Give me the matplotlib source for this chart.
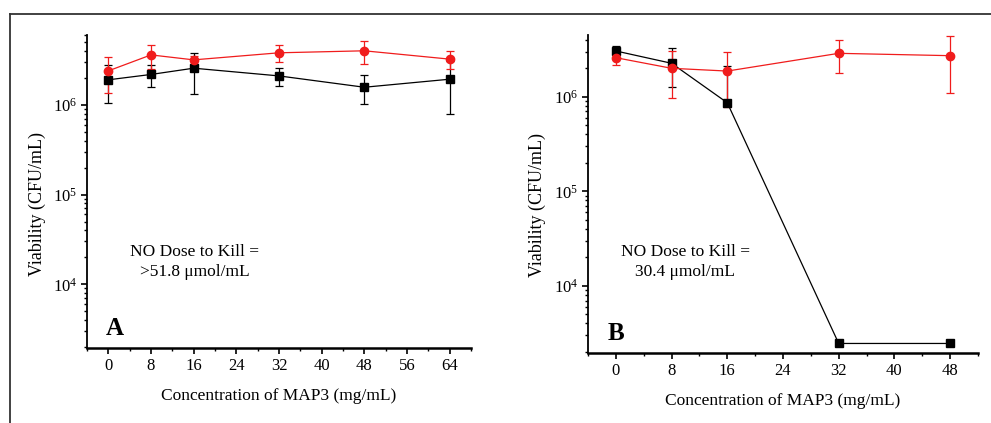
import matplotlib
matplotlib.use("Agg")
import matplotlib.pyplot as plt
from matplotlib.lines import Line2D
from matplotlib.ticker import LogLocator, MultipleLocator, NullFormatter

plt.rcParams["font.family"] = ["Liberation Serif", "DejaVu Serif"]
plt.rcParams["mathtext.fontset"] = "stix"

# panel A
conc_a = [0, 8, 16, 32, 48, 64]
black_a = [1.9e6, 2.18e6, 2.56e6, 2.1e6, 1.57e6, 1.93e6]
black_a_err = [0.86e6, 0.58e6, 1.25e6, 0.48e6, 0.56e6, 1.14e6]
red_a = [2.39e6, 3.6e6, 3.17e6, 3.8e6, 4.0e6, 3.23e6]
red_a_err = [1.03e6, 1.1e6, 0.35e6, 0.8e6, 1.15e6, 0.73e6]

# panel B
conc_b = [0, 8, 16, 32, 48]
black_b = [3.05e6, 2.26e6, 0.864e6, 2460, 2460]
black_b_err_lo = [0.4e6, 1.0e6, 0.0, 0, 0]
black_b_err_hi = [0.4e6, 1.0e6, 1.25e6, 0, 0]
red_b = [2.59e6, 2.0e6, 1.87e6, 2.88e6, 2.72e6]
red_b_err = [0.43e6, 1.03e6, 1.1e6, 1.08e6, 1.63e6]

fig = plt.figure(figsize=(9.91, 4.23), dpi=100)
W, H = 991, 423


def px_axes(left, top, right, bottom):
    return fig.add_axes([left / W, 1 - bottom / H, (right - left) / W, (bottom - top) / H])


ax_a = px_axes(87, 35, 471, 348)
ax_b = px_axes(588, 35, 978, 353)


def style(ax, xmax, xticks, ymax, letter, dose, text_pos, ylab_y):
    ax.set_yscale("log")
    ax.set_ylim(1950, ymax)
    ax.set_xlim(-4, xmax)
    ax.set_xticks(xticks)
    ax.xaxis.set_minor_locator(MultipleLocator(4))
    ax.yaxis.set_major_locator(LogLocator(base=10, numticks=10))
    ax.yaxis.set_minor_locator(LogLocator(base=10, subs=range(2, 10), numticks=20))
    ax.yaxis.set_minor_formatter(NullFormatter())
    for s in ["top", "right"]:
        ax.spines[s].set_visible(False)
    ax.spines["left"].set_linewidth(1.3)
    ax.spines["bottom"].set_linewidth(1.8)
    ax.tick_params(which="major", direction="out", length=4, width=1.2, labelsize=12, pad=3)
    ax.tick_params(which="minor", direction="out", length=2.5, width=1)
    ax.set_xlabel("Concentration of MAP3 (mg/mL)", fontsize=12.5, labelpad=10)
    ax.set_ylabel("Viability (CFU/mL)", fontsize=13)
    ax.yaxis.set_label_coords(-0.108, ylab_y)
    ax.text(0.05, 0.042, letter, transform=ax.transAxes, fontsize=18, fontweight="bold")
    ax.text(text_pos[0], text_pos[1], "NO Dose to Kill =\n" + dose, transform=ax.transAxes,
            fontsize=12.5, ha="center", va="center", linespacing=1.4)


def draw(ax, x, y, err, color, marker, ms):
    ax.errorbar(x, y, yerr=err, color=color, lw=0.9, marker=marker, ms=ms,
                mec=color, mfc=color, elinewidth=0.9, capsize=3, capthick=0.9, zorder=3)


draw(ax_a, conc_a, black_a, black_a_err, "black", "s", 5.5)
draw(ax_a, conc_a, red_a, red_a_err, "#f01c1c", "o", 6)
style(ax_a, 68, range(0, 65, 8), 6.0e6, "A", ">51.8 μmol/mL", (0.281, 0.275), 0.46)

draw(ax_b, conc_b, black_b, [black_b_err_lo, black_b_err_hi], "black", "s", 5.5)
draw(ax_b, conc_b, red_b, red_b_err, "#f01c1c", "o", 6)
style(ax_b, 52, range(0, 49, 8), 4.5e6, "B", "30.4 μmol/mL", (0.249, 0.286), 0.465)

# outer frame lines
fig.add_artist(Line2D([10 / W, 1], [1 - 14 / H, 1 - 14 / H], color="#333333", lw=1.3))
fig.add_artist(Line2D([10 / W, 10 / W], [0, 1 - 14 / H], color="#333333", lw=1.3))

fig.savefig("out.png", dpi=100)
